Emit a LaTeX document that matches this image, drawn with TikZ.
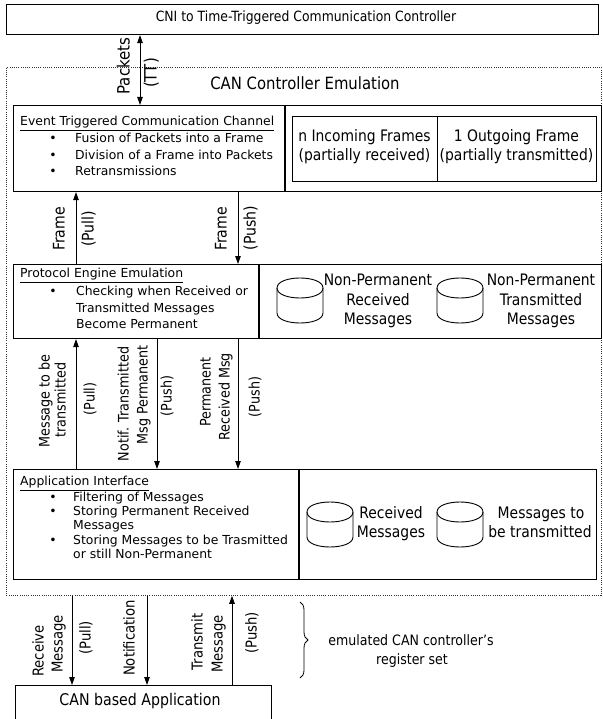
\documentclass[tikz,border=0pt]{standalone}
\usepackage{fontspec}
\setmainfont{DejaVu Sans}
\newfontfamily\tahfont[FakeStretch=0.88]{DejaVu Sans}
\usetikzlibrary{arrows.meta,decorations.pathreplacing}
\tikzset{
  box/.style={draw=black, line width=1.1pt, rectangle, inner sep=0pt, anchor=north west},
  ibox/.style={draw=black, line width=0.9pt, rectangle, inner sep=0pt, anchor=north west},
  sepline/.style={draw=black, line width=1.1pt},
  isepline/.style={draw=black, line width=0.9pt},
  emubox/.style={draw=black!80, line width=0.8pt, dash pattern=on 1pt off 1.2pt, rectangle, inner sep=0pt, anchor=north west},
  body/.style={font=\fontsize{12.4}{15}\selectfont, inner sep=0pt, anchor=mid west},
  bul/.style={font=\fontsize{12.4}{15}\selectfont, inner sep=0pt, anchor=mid},
  T/.style={font=\tahfont\fontsize{#1}{#1}\selectfont, inner sep=0pt, anchor=mid},
  V/.style={T=#1, rotate=90},
  arr/.style={draw=black, line width=0.9pt, -{Triangle[length=8pt,width=5.5pt]}},
  dbl/.style={draw=black, line width=0.9pt, {Triangle[length=8pt,width=5.5pt]}-{Triangle[length=8pt,width=5.5pt]}},
  db/.pic={
    \draw[line width=0.9pt] (-23,-12.5) .. controls (-23,-25.83) and (23,-25.83) .. (23,-12.5)
         .. controls (23,0.83) and (-23,0.83) .. (-23,-12.5) -- cycle;
    \draw[line width=0.9pt] (-23,-12.5) -- (-23,12.5) .. controls (-23,25.83) and (23,25.83) .. (23,12.5) -- (23,-12.5);
  }
}
\begin{document}
\begin{tikzpicture}[x=1pt,y=-1pt]
\useasboundingbox (0,0) rectangle (602,719);

% boxes
\node[box, minimum width=592pt, minimum height=30pt] (cni) at (6,4) {};
\node[emubox, minimum width=595pt, minimum height=528pt] (emu) at (6,67) {};
\node[box, minimum width=587.5pt, minimum height=86pt] (etcc) at (13,105) {};
\node[ibox, minimum width=304pt, minimum height=65pt] (frm) at (292,116) {};
\node[box, minimum width=587.5pt, minimum height=74pt] (pee) at (13,264) {};
\node[box, minimum width=583pt, minimum height=110pt] (ai) at (13,469) {};
\node[box, minimum width=256pt, minimum height=36pt] (app) at (15,685) {};

% x positions
\coordinate (d1) at (285,0);
\coordinate (d2) at (437,0);
\coordinate (d3) at (259,0);
\coordinate (d4) at (299,0);
\coordinate (xa) at (140,0);
\coordinate (xb) at (76,0);
\coordinate (xc) at (238,0);
\coordinate (xd) at (157,0);
\coordinate (xf) at (72,0);
\coordinate (xg) at (147,0);
\coordinate (xh) at (232,0);
\coordinate (br1) at (300,602);
\coordinate (br2) at (300,678);

% dividers
\draw[sepline] (etcc.north -| d1) -- (etcc.south -| d1);
\draw[isepline] (frm.north -| d2) -- (frm.south -| d2);
\draw[sepline] (pee.north -| d3) -- (pee.south -| d3);
\draw[sepline] (ai.north -| d4) -- (ai.south -| d4);

% top texts
\node[T=14.1] (cnit) at (306,19) {CNI to Time-Triggered Communication Controller};
\node[T=16.9] (emut) at (305,87) {CAN Controller Emulation};
\node[V=17] (pk) at (127,66) {Packets};
\node[V=17] (tt) at (154,73) {(TT)};

% ETCC
\node[body] (e0) at (20,123) {\underline{Event Triggered Communication Channel}};
\node[bul] (e1b) at (53,140) {•};
\node[body] (e1) at (75,140) {Fusion of Packets into a Frame};
\node[bul] (e2b) at (53,157) {•};
\node[body] (e2) at (75,157) {Division of a Frame into Packets};
\node[bul] (e3b) at (53,173) {•};
\node[body] (e3) at (75,173) {Retransmissions};
\node[T=15.8] (f1) at (364.5,139) {n Incoming Frames};
\node[T=15.8] (f2) at (364.5,158) {(partially received)};
\node[T=15.8] (f3) at (516.5,139) {1 Outgoing Frame};
\node[T=15.8] (f4) at (516.5,158) {(partially transmitted)};

% Frame arrows
\node[V=16] (fr1) at (62,229) {Frame};
\node[V=16] (fr2) at (91,229) {(Pull)};
\node[V=16] (fr3) at (224,229) {Frame};
\node[V=16] (fr4) at (253,228) {(Push)};

% PEE
\node[body] (p0) at (20,275) {\underline{Protocol Engine Emulation}};
\node[bul] (p1b) at (53,293) {•};
\node[body] (p1) at (76,293) {Checking when Received or};
\node[body] (p2) at (76,310) {Transmitted Messages};
\node[body] (p3) at (76,326) {Become Permanent};
\pic at (300,300.5) {db};
\pic at (460,300.5) {db};
\node[T=15.8] (n1) at (378,283) {Non-Permanent};
\node[T=15.8] (n2) at (378,303) {Received};
\node[T=15.8] (n3) at (378,322) {Messages};
\node[T=15.8] (n4) at (541,283) {Non-Permanent};
\node[T=15.8] (n5) at (541,303) {Transmitted};
\node[T=15.8] (n6) at (541,322) {Messages};

% mid labels
\node[V=14.5] (m1) at (47,401) {Message to be};
\node[V=14.5] (m2) at (63,400) {transmitted};
\node[V=14.5] (m3) at (92,399) {(Pull)};
\node[V=14.5] (m4) at (126,404) {Notif. Transmitted};
\node[V=14.5] (m5) at (145,395) {Msg Permanent};
\node[V=14.5] (m6) at (169,396) {(Push)};
\node[V=14.5] (m7) at (208,392) {Permanent};
\node[V=14.5] (m8) at (227,397) {Received Msg};
\node[V=14.5] (m9) at (257,397) {(Push)};

% AI
\node[body] (a0) at (20,483) {\underline{Application Interface}};
\node[bul] (a1b) at (53,499) {•};
\node[body] (a1) at (73,499) {Filtering of Messages};
\node[bul] (a2b) at (53,513) {•};
\node[body] (a2) at (73,513) {Storing Permanent Received};
\node[body] (a3) at (73,527) {Messages};
\node[bul] (a4b) at (53,542) {•};
\node[body] (a4) at (73,542) {Storing Messages to be Trasmitted};
\node[body] (a5) at (73,556) {or still Non-Permanent};
\pic at (330,524.5) {db};
\pic at (460,524.5) {db};
\node[T=15.8] (r1) at (391,516) {Received};
\node[T=15.8] (r2) at (391,535) {Messages};
\node[T=15.8] (r3) at (541,516) {Messages to};
\node[T=15.8] (r4) at (540,535) {be transmitted};

% bottom labels
\node[V=15] (b1) at (41,651) {Receive};
\node[V=15] (b2) at (60,644) {Message};
\node[V=15] (b3) at (88,638) {(Pull)};
\node[V=15] (b4) at (132,638) {Notification};
\node[V=15] (b5) at (200,642) {Transmit};
\node[V=15] (b6) at (220,644) {Message};
\node[V=15] (b7) at (254,633) {(Push)};
\node[T=14.3] (g1) at (411,643) {emulated CAN controller’s};
\node[T=14.3] (g2) at (412,662) {register set};
\node[T=16.1] (appt) at (140,703) {CAN based Application};

% connectors
\draw[dbl] (cni.south -| xa) -- (etcc.north -| xa);
\draw[arr] (pee.north -| xb) -- (etcc.south -| xb);
\draw[arr] (etcc.south -| xc) -- (pee.north -| xc);
\draw[arr] (ai.north -| xb) -- (pee.south -| xb);
\draw[arr] (pee.south -| xd) -- (ai.north -| xd);
\draw[arr] (pee.south -| xc) -- (ai.north -| xc);
\draw[arr] (emu.south -| xf) -- (app.north -| xf);
\draw[arr] (emu.south -| xg) -- (app.north -| xg);
\draw[arr] (app.north -| xh) -- (emu.south -| xh);
\draw[line width=0.8pt, decorate, decoration={brace, amplitude=8pt}] (br1) -- (br2);
\end{tikzpicture}
\end{document}
